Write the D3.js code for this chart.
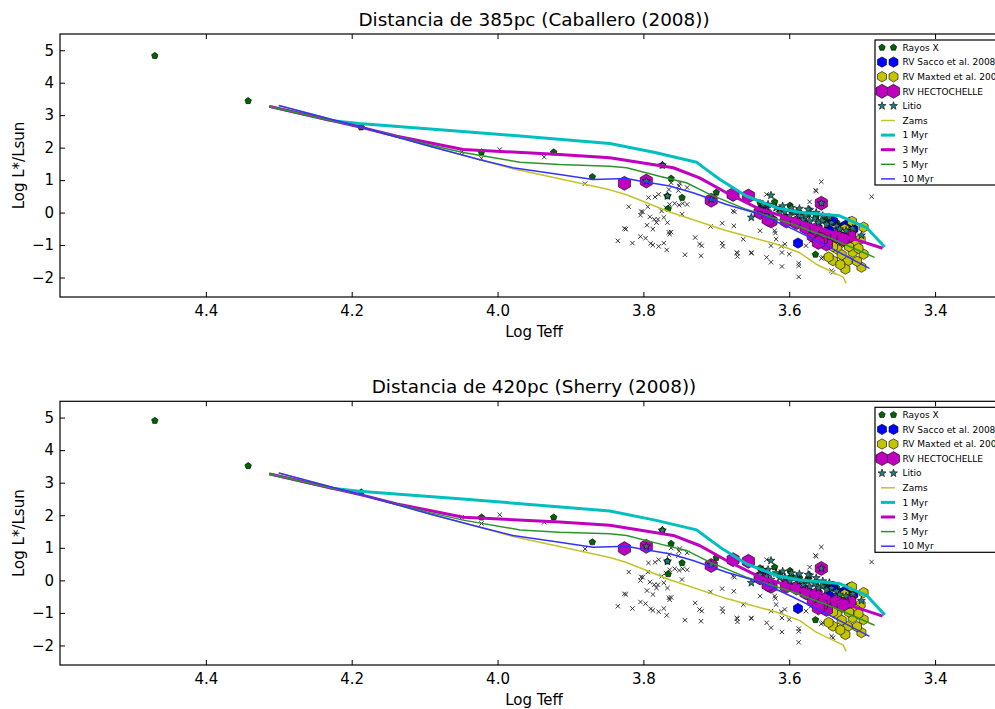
<!DOCTYPE html>
<html>
<head>
<meta charset="utf-8">
<script src="https://cdn.jsdelivr.net/npm/d3@7"></script>
<style>
  body { margin: 0; background: #fff; }
  svg { display: block; font-family: "DejaVu Sans", sans-serif; }
</style>
</head>
<body>
<svg id="chart" width="995" height="709"></svg>
<script>
// ---- data: [log Teff, log L*/Lsun] at 385 pc ----
let distances = [385, 420];
let titles = ["Distancia de 385pc (Caballero (2008))", "Distancia de 420pc (Sherry (2008))"];
let xTicks = [4.4, 4.2, 4.0, 3.8, 3.6, 3.4];
let yTicks = [-2, -1, 0, 1, 2, 3, 4, 5];
let legendLabels = ["Rayos X", "RV Sacco et al. 2008", "RV Maxted et al. 2008", "RV HECTOCHELLE", "Litio",
                    "Zams", "1 Myr", "3 Myr", "5 Myr", "10 Myr"];

// stars with no membership criterion (grey x)
let field = [
  [4.049,1.86],[4.022,1.67],[3.997,1.94],[3.936,1.71],[3.880,0.89],
  [3.820,0.18],[3.803,0.03],[3.804,-0.08],[3.791,-0.13],[3.794,0.18],[3.784,0.48],[3.779,0.56],
  [3.793,0.46],[3.775,0.05],[3.780,-0.21],[3.782,-0.31],[3.787,-0.51],[3.824,-0.51],[3.835,-0.87],
  [3.815,-0.94],[3.804,-0.74],[3.797,-0.79],[3.790,-0.95],[3.787,-1.00],[3.779,-1.04],[3.772,-0.94],
  [3.768,-1.15],[3.767,-0.31],[3.765,-0.61],[3.764,-0.67],[3.762,-0.60],[3.772,-0.15],[3.769,0.15],
  [3.764,0.25],[3.765,0.71],[3.762,0.92],[3.751,0.82],[3.752,0.68],[3.740,0.77],[3.757,0.28],
  [3.751,0.23],[3.746,0.28],[3.740,0.25],[3.747,-0.05],[3.729,-0.77],[3.720,-1.02],[3.721,-1.33],
  [3.743,-1.30],[3.708,-0.43],[3.826,-0.49],[3.750,0.90],[3.795,-0.39],[3.801,0.02],[3.785,-0.21],
  [3.692,-0.33],[3.676,-0.41],[3.675,0.02],[3.692,-0.94],[3.691,-1.04],[3.671,-1.25],[3.671,-1.35],
  [3.663,-0.82],[3.652,-1.25],[3.640,-0.56],[3.631,-1.38],[3.625,-1.02],[3.625,-1.53],[3.618,-0.82],
  [3.611,-1.04],[3.610,-1.23],[3.600,-1.28],[3.610,-1.66],[3.587,-1.56],[3.587,-1.64],[3.587,-1.98],
  [3.619,-0.63],[3.556,0.95],[3.564,0.69],[3.572,0.33],[3.487,0.49],[3.556,-1.41],[3.540,-1.84],
  [3.536,-1.53],[3.522,-1.64],[3.631,0.56],[3.606,-0.97],[3.570,-0.87],[3.577,-1.02],[3.554,-1.38],
  [3.542,-1.79],[3.563,0.66],[3.723,-0.97],[3.677,0.05],[3.672,-1.23],[3.652,-1.23],[3.620,-0.56]
];

let rayosX = [
  [4.470,4.83],[4.342,3.44],[4.187,2.63],[4.022,1.86],[3.923,1.86],[3.870,1.10],[3.774,1.46],
  [3.762,1.05],[3.767,0.51],[3.747,0.46],[3.766,0.12],[3.700,0.62],[3.564,-1.29],
  [3.631,0.20],[3.613,0.10],[3.597,0.05],[3.586,0.00],[3.574,-0.05],[3.563,-0.12],[3.549,-0.22],
  [3.535,-0.30],[3.522,-0.45],[3.606,-0.15],[3.590,-0.20],[3.577,-0.32],[3.560,-0.42],[3.545,-0.50],
  [3.640,0.30],[3.620,0.33],[3.599,0.22]
];

let rvSacco = [
  [3.588,-0.94],[3.540,-0.26],[3.512,-0.51],[3.524,-0.41],[3.517,-0.30],[3.530,-0.48],[3.545,-0.55]
];

let rvMaxted = [
  [3.514,-0.27],[3.527,-0.91],[3.513,-1.22],[3.501,-1.68],[3.540,-1.48],[3.520,-1.49],[3.531,-0.70],
  [3.502,-0.82],[3.498,-1.28],[3.524,-0.51],[3.534,-1.13],[3.546,-1.37],[3.509,-0.97],[3.523,-1.74],
  [3.536,-0.88],[3.507,-1.50],[3.515,-0.60],[3.530,-1.60],[3.505,-1.10],[3.540,-1.05],[3.518,-1.05],
  [3.528,-1.30],[3.498,-0.45]
];

let rvHecto = [
  [3.826,0.90],[3.796,0.97],[3.707,0.38],[3.677,0.56],[3.656,0.51],[3.556,0.29],[3.636,0.05],
  [3.625,-0.26],[3.567,-0.72],[3.549,-0.97],[3.517,-0.72],[3.640,0.00],[3.629,-0.21],[3.604,-0.26],
  [3.590,-0.31],[3.577,-0.46],[3.563,-0.51],[3.551,-0.67],[3.535,-0.72],[3.526,-0.82],[3.556,-0.82],
  [3.560,-0.92]
];

let litio = [
  [3.796,0.97],[3.767,0.51],[3.774,1.46],[3.707,0.41],[3.652,-0.15],[3.572,0.08],
  [3.625,0.53],[3.613,0.00],[3.606,0.02],[3.599,-0.10],[3.590,0.02],[3.586,-0.10],[3.581,-0.21],
  [3.577,-0.08],[3.572,-0.26],[3.565,-0.18],[3.560,-0.31],[3.554,-0.26],[3.549,-0.36],[3.542,-0.31],
  [3.535,-0.41],[3.531,-0.51],[3.522,-0.56],[3.513,-0.49],[3.618,0.15],[3.609,0.20],[3.597,0.15],
  [3.586,0.12],[3.574,0.10],[3.563,0.00],[3.554,-0.10],[3.545,-0.15],[3.625,-0.05],[3.631,0.05],
  [3.640,0.10],[3.636,0.25],[3.629,0.25],[3.501,-0.70],[3.556,0.29]
];

// isochrones
let zams = [[4.300,3.30],[4.184,2.61],[4.093,2.04],[4.024,1.63],[3.979,1.35],[3.915,1.04],[3.846,0.70],
  [3.823,0.55],[3.764,0.02],[3.686,-0.56],[3.618,-0.97],[3.586,-1.23],[3.563,-1.59],[3.526,-1.99],[3.522,-2.18]];
let myr1 = [[4.313,3.27],[4.230,2.84],[4.190,2.74],[4.048,2.50],[3.846,2.13],[3.784,1.85],[3.727,1.55],[3.714,1.33],
  [3.695,1.02],[3.659,0.51],[3.618,0.15],[3.586,0.01],[3.531,-0.10],[3.494,-0.46],[3.469,-1.06]];
let myr3 = [[4.313,3.27],[4.184,2.61],[4.138,2.35],[4.047,1.94],[3.915,1.79],[3.846,1.69],[3.759,1.38],
  [3.723,1.07],[3.686,0.61],[3.640,0.10],[3.595,-0.20],[3.549,-0.56],[3.503,-0.87],[3.472,-1.10]];
let myr5 = [[4.313,3.27],[4.184,2.61],[4.093,2.08],[4.047,1.85],[3.969,1.55],[3.915,1.48],[3.846,1.43],
  [3.823,1.38],[3.778,1.12],[3.741,0.92],[3.709,0.56],[3.659,0.10],[3.595,-0.36],[3.540,-0.82],[3.483,-1.38]];
let myr10 = [[4.300,3.30],[4.184,2.61],[4.093,2.04],[4.024,1.63],[3.979,1.38],[3.915,1.17],[3.869,1.02],
  [3.823,1.05],[3.805,0.97],[3.764,0.82],[3.732,0.61],[3.686,0.25],[3.640,-0.05],[3.595,-0.51],
  [3.549,-1.02],[3.490,-1.72]];

// ---- marker shapes ----
let polygon = (n, r) => {
    let p = d3.path();
    for (let i = 0; i < n; i++) {
        let a = -Math.PI / 2 + i * 2 * Math.PI / n;
        if (i === 0) p.moveTo(r * Math.cos(a), r * Math.sin(a));
        else p.lineTo(r * Math.cos(a), r * Math.sin(a));
    }
    p.closePath();
    return p.toString();
};
let star = (r) => {
    let p = d3.path();
    for (let i = 0; i < 10; i++) {
        let rr = i % 2 === 0 ? r : r * 0.4;
        let a = -Math.PI / 2 + i * Math.PI / 5;
        if (i === 0) p.moveTo(rr * Math.cos(a), rr * Math.sin(a));
        else p.lineTo(rr * Math.cos(a), rr * Math.sin(a));
    }
    p.closePath();
    return p.toString();
};
let cross = (r) => `M${-r},${-r}L${r},${r}M${-r},${r}L${r},${-r}`;

let markerSeries = [
    { data: rayosX,   shape: polygon(5, 3.4), fill: "#006400" },
    { data: rvSacco,  shape: polygon(6, 5.2), fill: "#0000ff" },
    { data: rvMaxted, shape: polygon(6, 5.2), fill: "#c4c400" },
    { data: rvHecto,  shape: polygon(6, 7.0), fill: "#bf00bf" },
    { data: litio,    shape: star(4.2),       fill: "#248080" }
];
let lineSeries = [
    { data: zams,  color: "#c4c42a", width: 1.5 },
    { data: myr1,  color: "#00bfbf", width: 3 },
    { data: myr3,  color: "#bf00bf", width: 3 },
    { data: myr5,  color: "#2a962a", width: 1.5 },
    { data: myr10, color: "#3333ff", width: 1.5 }
];

let svg = d3.select("#chart");
let x = d3.scaleLinear().domain([4.6, 3.3]).range([60, 1008]);
let panels = [{ top: 34, bottom: 297 }, { top: 401.3, bottom: 665 }];

panels.forEach((pan, i) => {
    let y = d3.scaleLinear().domain([-2.6, 5.5]).range([pan.bottom, pan.top]);
    // luminosity scales with the square of the adopted distance
    let lum = d => d[1] + 2 * Math.log10(distances[i] / distances[0]);
    let g = svg.append("g");

    g.append("clipPath").attr("id", "clip" + i)
        .append("rect").attr("x", 60).attr("y", pan.top)
        .attr("width", 948).attr("height", pan.bottom - pan.top);

    let plot = g.append("g").attr("clip-path", `url(#clip${i})`);

    plot.selectAll(".field")
        .data(field)
        .enter()
        .append("path")
        .attr("d", cross(2.2))
        .attr("transform", d => `translate(${x(d[0])},${y(lum(d))})`)
        .attr("stroke", "#222")
        .attr("stroke-width", 0.9)
        .attr("fill", "none");

    markerSeries.forEach(s => {
        plot.append("g").selectAll("path")
            .data(s.data)
            .enter()
            .append("path")
            .attr("d", s.shape)
            .attr("transform", d => `translate(${x(d[0])},${y(lum(d))})`)
            .attr("fill", s.fill)
            .attr("stroke", "#000")
            .attr("stroke-width", 0.6);
    });

    lineSeries.forEach(s => {
        plot.append("path")
            .datum(s.data)
            .attr("d", d3.line().x(d => x(d[0])).y(d => y(d[1])))
            .attr("fill", "none")
            .attr("stroke", s.color)
            .attr("stroke-width", s.width)
            .attr("stroke-linejoin", "round");
    });

    // axes, ticks pointing inwards
    g.append("g").attr("transform", `translate(0,${pan.bottom})`)
        .call(d3.axisBottom(x).tickValues(xTicks).tickFormat(d3.format(".1f")).tickSize(-5).tickPadding(8))
        .call(a => a.select(".domain").remove());
    g.append("g").attr("transform", `translate(0,${pan.top})`)
        .call(d3.axisTop(x).tickValues(xTicks).tickFormat("").tickSize(-5))
        .call(a => a.select(".domain").remove());
    g.append("g").attr("transform", "translate(60,0)")
        .call(d3.axisLeft(y).tickValues(yTicks).tickFormat(d3.format("d")).tickSize(-5).tickPadding(6))
        .call(a => a.select(".domain").remove());
    g.selectAll(".tick text").attr("font-size", 15).attr("font-family", "DejaVu Sans").attr("fill", "#000");
    g.selectAll(".tick line").attr("stroke", "#000");

    g.append("rect")
        .attr("x", 60).attr("y", pan.top)
        .attr("width", 948).attr("height", pan.bottom - pan.top)
        .attr("fill", "none").attr("stroke", "#000").attr("stroke-width", 1.2);

    g.append("text")
        .attr("x", 534).attr("y", pan.top - 8)
        .attr("text-anchor", "middle").attr("font-size", 18.4)
        .text(titles[i]);
    g.append("text")
        .attr("x", 534).attr("y", pan.bottom + 40)
        .attr("text-anchor", "middle").attr("font-size", 15)
        .text("Log Teff");
    g.append("text")
        .attr("transform", `translate(24,${(pan.top + pan.bottom) / 2}) rotate(-90)`)
        .attr("text-anchor", "middle").attr("font-size", 15)
        .text("Log L*/Lsun");

    // legend (cut by the right edge of the figure, as in the original)
    let lg = g.append("g").attr("transform", `translate(875,${pan.top + 6})`);
    lg.append("rect").attr("width", 140).attr("height", 145)
        .attr("fill", "#fff").attr("stroke", "#000").attr("stroke-width", 1.2);
    legendLabels.forEach((label, k) => {
        let ly = 7.5 + k * 14.6;
        if (k < markerSeries.length) {
            [7, 18.5].forEach(mx => {
                lg.append("path").attr("d", markerSeries[k].shape)
                    .attr("transform", `translate(${mx},${ly})`)
                    .attr("fill", markerSeries[k].fill)
                    .attr("stroke", "#000").attr("stroke-width", 0.6);
            });
        } else {
            let s = lineSeries[k - markerSeries.length];
            lg.append("line").attr("x1", 6).attr("x2", 20).attr("y1", ly).attr("y2", ly)
                .attr("stroke", s.color).attr("stroke-width", s.width);
        }
        lg.append("text").attr("x", 27.5).attr("y", ly + 3.2)
            .attr("font-size", 9).text(label);
    });
});
</script>
</body>
</html>
